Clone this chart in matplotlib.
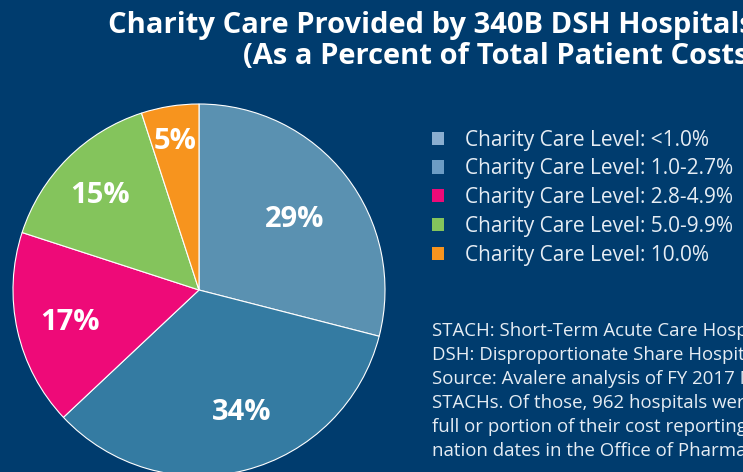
import matplotlib
matplotlib.use("Agg")
import matplotlib.pyplot as plt
from matplotlib.patches import Patch
import numpy as np

# ---- data ----
shares = [29, 34, 17, 15, 5]
slice_labels = ["29%", "34%", "17%", "15%", "5%"]
legend_labels = [
    "Charity Care Level: <1.0%",
    "Charity Care Level: 1.0-2.7%",
    "Charity Care Level: 2.8-4.9%",
    "Charity Care Level: 5.0-9.9%",
    "Charity Care Level: 10.0%",
]
title_lines = [
    "Charity Care Provided by 340B DSH Hospitals",
    "(As a Percent of Total Patient Costs)",
]
footnote_lines = [
    "STACH: Short-Term Acute Care Hospital",
    "DSH: Disproportionate Share Hospital",
    "Source: Avalere analysis of FY 2017 Medicare cost reports",
    "STACHs. Of those, 962 hospitals were",
    "full or portion of their cost reporting",
    "nation dates in the Office of Pharmacy",
]

# ---- style ----
BG = "#003c6e"
slice_colors = ["#5a91b1", "#347ba2", "#ee0a78", "#84c45c", "#f7941e"]
legend_colors = ["#8aaed0", "#6c9cc4", "#ee0a78", "#84c45c", "#f7941e"]
label_radius = [0.65, 0.68, 0.71, 0.75, 0.83]
label_angle_shift = [0, 5.5, 0, 0, 0]
FONT = "Open Sans"

W, H = 743, 472
fig = plt.figure(figsize=(W / 100, H / 100), dpi=100, facecolor=BG)

cx, cy, R = 199, 290, 186
ax = fig.add_axes([(cx - R) / W, (H - cy - R) / H, 2 * R / W, 2 * R / H])
ax.set_facecolor(BG)
wedges, _ = ax.pie(shares, colors=slice_colors, startangle=90, counterclock=False,
                   radius=1.0, wedgeprops=dict(edgecolor="white", linewidth=0.8))
for w, lab, r, sh in zip(wedges, slice_labels, label_radius, label_angle_shift):
    mid = np.deg2rad((w.theta1 + w.theta2) / 2 + sh)
    ax.text(r * np.cos(mid), r * np.sin(mid) - 0.02, lab, ha="center", va="center",
            color="white", fontsize=21, fontweight="bold", family=FONT)
ax.set_xlim(-1, 1)
ax.set_ylim(-1, 1)
ax.set_aspect("equal")
ax.axis("off")

# title
fig.text(108 / W, 1 - 26 / H, title_lines[0], ha="left", va="center",
         color="white", fontsize=21, fontweight="bold", family=FONT)
fig.text(243 / W, 1 - 56 / H, title_lines[1], ha="left", va="center",
         color="white", fontsize=21, fontweight="bold", family=FONT)

# legend
handles = [Patch(facecolor=c, edgecolor="none") for c in legend_colors]
leg = fig.legend(handles, legend_labels, loc="upper left",
                 bbox_to_anchor=(413 / W, 1 - 111 / H), frameon=False,
                 handlelength=0.6, handleheight=0.6, handletextpad=1.0,
                 labelspacing=0.37, prop=dict(family=FONT, size=15))
for t in leg.get_texts():
    t.set_color("#e6edf4")

# footnote
for i, line in enumerate(footnote_lines):
    fig.text(432 / W, 1 - (331 + 24 * i) / H, line, ha="left", va="center",
             color="#e6edf4", fontsize=13.4, family=FONT, clip_on=True)

fig.savefig("out.png", dpi=100, facecolor=BG)
